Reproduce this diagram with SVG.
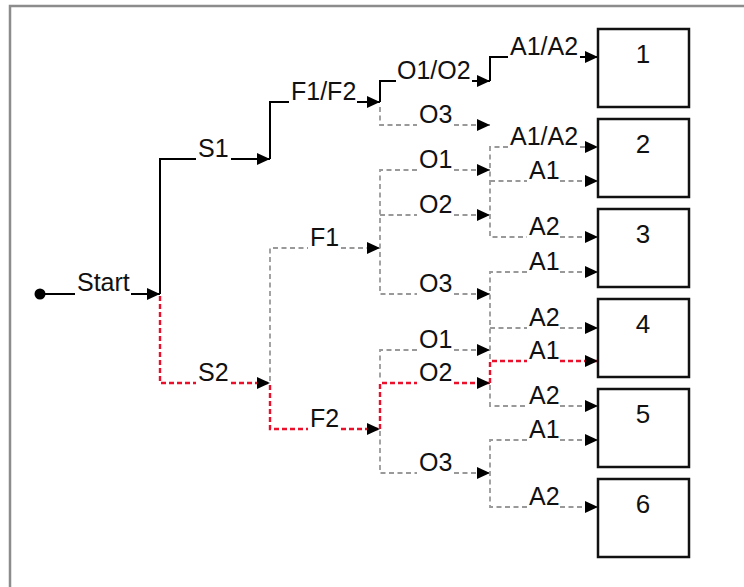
<svg xmlns="http://www.w3.org/2000/svg" width="744" height="587" viewBox="0 0 744 587">
<style>
.t{font-family:"Liberation Sans",Arial,sans-serif;font-size:25px;fill:#111}
.n{font-family:"Liberation Sans",Arial,sans-serif;font-size:26px;fill:#111;text-anchor:middle}
.s{fill:none;stroke:#000;stroke-width:2}
.g{fill:none;stroke:#999;stroke-width:1.8;stroke-dasharray:5 3.5}
.r{fill:none;stroke:#e8102a;stroke-width:2.4;stroke-dasharray:5 3}
.box{fill:#fff;stroke:#111;stroke-width:2.5}
</style>
<defs>
<marker id="ah" markerUnits="userSpaceOnUse" viewBox="0 0 14 12" markerWidth="14" markerHeight="12" refX="13" refY="6" orient="auto" overflow="visible">
<path d="M0,0 L13,6 L0,12 z" fill="#000"/>
</marker>
</defs>
<rect x="0" y="0" width="744" height="587" fill="#fff"/>
<rect x="10" y="6" width="760" height="600" fill="none" stroke="#8c8c8c" stroke-width="2.5"/>

<g id="connectors">
<path class="s" d="M40,294 H75"/>
<path class="s" d="M131,294 H160" marker-end="url(#ah)"/>
<path class="s" d="M160,294 V159 H196"/>
<path class="s" d="M231,159 H270" marker-end="url(#ah)"/>
<path class="s" d="M270,159 V102 H289"/>
<path class="s" d="M357,102 H380" marker-end="url(#ah)"/>
<path class="s" d="M380,102 V81 H396"/>
<path class="s" d="M472,81 H490" marker-end="url(#ah)"/>
<path class="s" d="M490,81 V57 H508"/>
<path class="s" d="M580,57 H598" marker-end="url(#ah)"/>

<path class="r" d="M160,296 V383 H196"/>
<path class="r" d="M231,383 H270" marker-end="url(#ah)"/>
<path class="r" d="M270,385 V429 H308"/>
<path class="r" d="M341,429 H380" marker-end="url(#ah)"/>
<path class="r" d="M380,429 V383 H417"/>
<path class="r" d="M454,383 H490" marker-end="url(#ah)"/>
<path class="r" d="M490,383 V361 H527"/>
<path class="r" d="M560,361 H598" marker-end="url(#ah)"/>

<path class="g" d="M270,381 V248 H308"/>
<path class="g" d="M341,248 H380" marker-end="url(#ah)"/>

<path class="g" d="M380,107 V125 H417"/>
<path class="g" d="M454,125 H490" marker-end="url(#ah)"/>

<path class="g" d="M417,170 H380 V294 H417"/>
<path class="g" d="M380,215 H417"/>
<path class="g" d="M454,170 H490" marker-end="url(#ah)"/>
<path class="g" d="M454,215 H490" marker-end="url(#ah)"/>
<path class="g" d="M454,294 H490" marker-end="url(#ah)"/>

<path class="g" d="M417,350 H380 V381"/>
<path class="g" d="M380,431 V473 H417"/>
<path class="g" d="M454,350 H490" marker-end="url(#ah)"/>
<path class="g" d="M454,473 H490" marker-end="url(#ah)"/>

<path class="g" d="M508,147 H490 V237 H527"/>
<path class="g" d="M490,181 H527"/>
<path class="g" d="M580,147 H598" marker-end="url(#ah)"/>
<path class="g" d="M560,181 H598" marker-end="url(#ah)"/>
<path class="g" d="M560,237 H598" marker-end="url(#ah)"/>

<path class="g" d="M527,272 H490 V359"/>
<path class="g" d="M490,328 H527"/>
<path class="g" d="M490,385 V406 H527"/>
<path class="g" d="M560,272 H598" marker-end="url(#ah)"/>
<path class="g" d="M560,328 H598" marker-end="url(#ah)"/>
<path class="g" d="M560,406 H598" marker-end="url(#ah)"/>

<path class="g" d="M527,440 H490 V507 H527"/>
<path class="g" d="M560,440 H598" marker-end="url(#ah)"/>
<path class="g" d="M560,507 H598" marker-end="url(#ah)"/>

<text class="t" x="77" y="291">Start</text>
<text class="t" x="198" y="157">S1</text>
<text class="t" x="198" y="381">S2</text>
<text class="t" x="291" y="100">F1/F2</text>
<text class="t" x="310" y="246">F1</text>
<text class="t" x="310" y="427">F2</text>
<text class="t" x="397" y="79">O1/O2</text>
<text class="t" x="419" y="123">O3</text>
<text class="t" x="419" y="168">O1</text>
<text class="t" x="419" y="213">O2</text>
<text class="t" x="419" y="292">O3</text>
<text class="t" x="419" y="348">O1</text>
<text class="t" x="419" y="381">O2</text>
<text class="t" x="419" y="471">O3</text>
<text class="t" x="510" y="55">A1/A2</text>
<text class="t" x="510" y="145">A1/A2</text>
<text class="t" x="529" y="179">A1</text>
<text class="t" x="529" y="235">A2</text>
<text class="t" x="529" y="270">A1</text>
<text class="t" x="529" y="326">A2</text>
<text class="t" x="529" y="359">A1</text>
<text class="t" x="529" y="404">A2</text>
<text class="t" x="529" y="438">A1</text>
<text class="t" x="529" y="505">A2</text>
</g>

<g id="start"><circle cx="40" cy="294" r="5.5" fill="#000"/></g>

<g id="box1"><rect class="box" x="598" y="29" width="91" height="78"/><text class="n" x="643" y="63">1</text></g>
<g id="box2"><rect class="box" x="598" y="119" width="91" height="78"/><text class="n" x="643" y="153">2</text></g>
<g id="box3"><rect class="box" x="598" y="209" width="91" height="78"/><text class="n" x="643" y="243">3</text></g>
<g id="box4"><rect class="box" x="598" y="299" width="91" height="78"/><text class="n" x="643" y="333">4</text></g>
<g id="box5"><rect class="box" x="598" y="389" width="91" height="78"/><text class="n" x="643" y="423">5</text></g>
<g id="box6"><rect class="box" x="598" y="479" width="91" height="78"/><text class="n" x="643" y="513">6</text></g>
</svg>
